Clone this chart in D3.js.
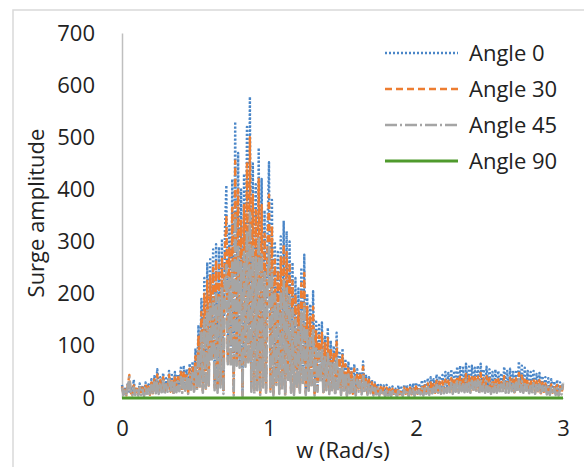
<!DOCTYPE html>
<html>
<head>
<meta charset="utf-8">
<script src="https://cdn.jsdelivr.net/npm/d3@7"></script>
<style>
  body { margin: 0; background: #fff; }
  text { font-family: "Open Sans", "Noto Sans", sans-serif; fill: #222; }
</style>
</head>
<body>
<svg id="chart" width="584" height="467"></svg>
<script>
// frequency grid, 0 to 3 rad/s in steps of 0.01
const w = d3.range(301).map(i => i / 100)

// surge amplitude, one row = 0.2 rad/s
const angle0 = [
  25, 10, 18, 6, 30, 12, 22, 8, 35, 10, 20, 7, 28, 9, 24, 6, 30, 12, 26, 8,
  36, 10, 42, 14, 55, 12, 40, 16, 48, 10, 38, 18, 52, 14, 44, 12, 50, 16, 46, 20,
  58, 15, 62, 20, 55, 12, 66, 22, 70, 18, 95, 20, 140, 25, 190, 15, 230, 20, 260, 28,
  270, 80, 285, 25, 295, 18, 290, 30, 305, 15, 320, 408, 75, 330, 70, 420, 15, 530, 72, 470,
  68, 400, 10, 430, 70, 520, 75, 578, 22, 450, 15, 410, 25, 480, 12, 420, 30, 360, 18, 330,
  452, 20, 380, 12, 300, 35, 280, 15, 310, 25, 340, 10, 320, 40, 300, 18, 260, 12, 230, 28,
  210, 18, 250, 35, 275, 12, 200, 22, 180, 30, 205, 10, 150, 20, 140, 40, 145, 14, 120, 25,
  135, 14, 110, 22, 100, 10, 125, 18, 90, 12, 95, 16, 75, 8, 70, 14, 60, 10, 65, 8,
  55, 20, 50, 12, 70, 18, 45, 10, 40, 15, 35, 8, 30, 12, 28, 6, 25, 10, 24, 5,
  25, 8, 20, 5, 22, 10, 18, 4, 24, 8, 20, 6, 26, 10, 22, 5, 25, 9, 28, 7,
  30, 10, 28, 12, 34, 8, 32, 14, 38, 10, 40, 15, 36, 12, 45, 18, 42, 14, 44, 16,
  50, 18, 48, 20, 55, 15, 52, 22, 60, 18, 62, 25, 58, 20, 66, 24, 60, 18, 62, 22,
  58, 20, 62, 16, 66, 25, 55, 18, 60, 22, 55, 15, 50, 20, 55, 18, 52, 24, 48, 16,
  60, 20, 52, 18, 56, 24, 50, 15, 54, 20, 70, 22, 62, 18, 58, 25, 52, 16, 50, 20,
  52, 14, 46, 18, 48, 12, 42, 16, 40, 12, 38, 10, 36, 14, 32, 10, 35, 8, 30, 12,
  30
]
const angle30 = [
  22, 8, 16, 5, 26, 44, 10, 6, 24, 8, 18, 6, 24, 8, 20, 5, 26, 10, 22, 6,
  30, 9, 36, 12, 45, 10, 34, 14, 40, 9, 32, 15, 44, 12, 38, 10, 42, 14, 40, 16,
  50, 12, 52, 18, 46, 10, 56, 20, 58, 15, 80, 18, 120, 22, 165, 12, 200, 18, 225, 24,
  235, 75, 250, 20, 265, 14, 255, 26, 270, 12, 280, 350, 70, 290, 66, 365, 10, 455, 68, 400,
  64, 340, 6, 370, 66, 450, 70, 500, 18, 390, 12, 360, 20, 420, 9, 370, 25, 315, 14, 290,
  390, 16, 330, 8, 265, 30, 245, 12, 270, 20, 295, 7, 280, 35, 260, 14, 225, 9, 200, 22,
  180, 14, 220, 30, 240, 9, 175, 18, 155, 25, 175, 8, 130, 16, 120, 35, 125, 11, 105, 20,
  115, 11, 95, 18, 88, 8, 108, 15, 78, 9, 82, 13, 65, 6, 60, 11, 52, 8, 56, 6,
  48, 18, 44, 10, 60, 15, 40, 9, 35, 13, 30, 7, 26, 10, 24, 5, 21, 9, 20, 4,
  20, 7, 17, 4, 18, 8, 15, 3, 19, 7, 16, 5, 20, 8, 18, 4, 20, 7, 22, 6,
  22, 8, 20, 10, 25, 7, 24, 11, 28, 8, 30, 12, 27, 10, 33, 14, 31, 11, 32, 12,
  35, 14, 33, 15, 38, 11, 36, 16, 42, 13, 43, 18, 40, 15, 46, 17, 42, 13, 43, 16,
  40, 15, 44, 12, 48, 18, 38, 13, 42, 16, 38, 11, 35, 15, 38, 13, 36, 17, 34, 12,
  42, 14, 36, 13, 39, 17, 35, 11, 38, 14, 48, 16, 43, 13, 40, 18, 36, 12, 35, 14,
  36, 10, 32, 13, 34, 9, 30, 12, 28, 9, 27, 8, 26, 10, 23, 8, 25, 6, 22, 9,
  24
]
const angle45 = [
  20, 6, 14, 4, 22, 40, 8, 5, 20, 6, 15, 5, 20, 6, 16, 4, 22, 8, 18, 5,
  25, 7, 30, 9, 36, 8, 28, 11, 33, 7, 26, 12, 36, 10, 30, 8, 34, 11, 32, 13,
  40, 10, 42, 14, 38, 8, 45, 16, 48, 12, 62, 15, 90, 18, 125, 10, 150, 14, 170, 20,
  180, 70, 190, 15, 200, 10, 195, 20, 210, 8, 220, 255, 65, 230, 60, 260, 5, 350, 62, 290,
  58, 260, 3, 280, 60, 320, 65, 355, 12, 290, 8, 270, 15, 310, 6, 275, 20, 240, 10, 220,
  290, 12, 245, 5, 200, 25, 185, 8, 205, 15, 225, 4, 210, 30, 195, 10, 170, 6, 150, 18,
  135, 10, 165, 25, 180, 6, 130, 14, 115, 20, 130, 5, 95, 12, 90, 30, 92, 8, 78, 15,
  85, 8, 70, 15, 65, 5, 80, 12, 58, 6, 60, 10, 48, 4, 45, 9, 38, 7, 40, 5,
  35, 12, 32, 7, 44, 10, 30, 6, 26, 9, 22, 5, 19, 7, 18, 4, 15, 6, 15, 3,
  14, 5, 12, 3, 13, 6, 11, 2, 14, 5, 12, 4, 15, 6, 13, 3, 15, 5, 16, 4,
  17, 6, 15, 7, 19, 5, 18, 8, 21, 6, 22, 9, 20, 7, 25, 10, 23, 8, 24, 9,
  27, 10, 25, 11, 29, 8, 28, 12, 32, 10, 33, 13, 30, 11, 35, 12, 32, 10, 33, 12,
  31, 11, 34, 9, 36, 13, 29, 10, 32, 12, 29, 8, 27, 11, 29, 10, 28, 13, 26, 9,
  32, 10, 28, 10, 30, 13, 27, 8, 29, 11, 36, 12, 33, 10, 31, 14, 28, 9, 27, 11,
  28, 8, 25, 10, 26, 7, 23, 9, 22, 7, 21, 6, 20, 8, 18, 6, 19, 5, 17, 7,
  28
]
// angle 90 stays flat on zero
const w90 = [0, 0.5, 1, 1.5, 2, 2.5, 3]
const angle90 = [0, 0, 0, 0, 0, 0, 0]

const xTicks = [0, 1, 2, 3]
const yTicks = [0, 100, 200, 300, 400, 500, 600, 700]

const series = [
  {name: "Angle 0", x: w, y: angle0, color: "#4a86c8", width: 2.4, dash: "2,2"},
  {name: "Angle 30", x: w, y: angle30, color: "#ed7d31", width: 2.4, dash: "7,4"},
  {name: "Angle 45", x: w, y: angle45, color: "#a5a5a5", width: 2.6, dash: "12,3,2,3"},
  {name: "Angle 90", x: w90, y: angle90, color: "#4f9a2c", width: 3, dash: null}
]

const svg = d3.select("#chart")

// outer frame of the chart
svg.append("rect")
  .attr("x", 13).attr("y", 10)
  .attr("width", 620).attr("height", 500)
  .attr("fill", "none").attr("stroke", "#d9d9d9").attr("stroke-width", 1.5)

const x = d3.scaleLinear().domain([0, 3]).range([122, 563])
const y = d3.scaleLinear().domain([0, 700]).range([398, 33])

// y axis: line only, labels to the left
const yAxis = svg.append("g")
  .attr("transform", "translate(122,0)")
  .call(d3.axisLeft(y).tickValues(yTicks).tickSize(0).tickPadding(27))
yAxis.select(".domain").attr("stroke", "#bfbfbf").attr("stroke-width", 1.5)
yAxis.selectAll("text").attr("font-size", 22).attr("fill", "#222")
  .style("font-family", "Open Sans")

const xAxis = svg.append("g")
  .attr("transform", "translate(0,398)")
  .call(d3.axisBottom(x).tickValues(xTicks).tickSize(0).tickPadding(22).tickFormat(d3.format("d")))
xAxis.select(".domain").attr("stroke", "#bfbfbf").attr("stroke-width", 1)
xAxis.selectAll("text").attr("font-size", 22).attr("fill", "#222")
  .style("font-family", "Open Sans")

let line = d3.line()
  .x(d => x(d[0]))
  .y(d => y(d[1]))

series.forEach(s => {
  svg.append("path")
    .datum(s.x.map((v, i) => [v, s.y[i]]))
    .attr("d", line)
    .attr("fill", "none")
    .attr("stroke", s.color)
    .attr("stroke-width", s.width)
    .attr("stroke-dasharray", s.dash)
    .attr("stroke-linejoin", "round")
})

// axis titles
svg.append("text")
  .attr("x", 343).attr("y", 458)
  .attr("text-anchor", "middle").attr("font-size", 22)
  .text("w (Rad/s)")

svg.append("text")
  .attr("transform", "translate(44,213) rotate(-90)")
  .attr("text-anchor", "middle").attr("font-size", 22)
  .text("Surge amplitude")

// legend
let legend = svg.append("g").attr("class", "legend")
series.forEach((s, i) => {
  let ly = 53 + 36 * i
  legend.append("line")
    .attr("x1", 385).attr("x2", 458).attr("y1", ly).attr("y2", ly)
    .attr("stroke", s.color)
    .attr("stroke-width", i == 2 ? 2.4 : s.width)
    .attr("stroke-dasharray", s.dash)
  legend.append("text")
    .attr("x", 469).attr("y", ly)
    .attr("dy", "0.35em").attr("font-size", 22)
    .text(s.name)
})
</script>
</body>
</html>
